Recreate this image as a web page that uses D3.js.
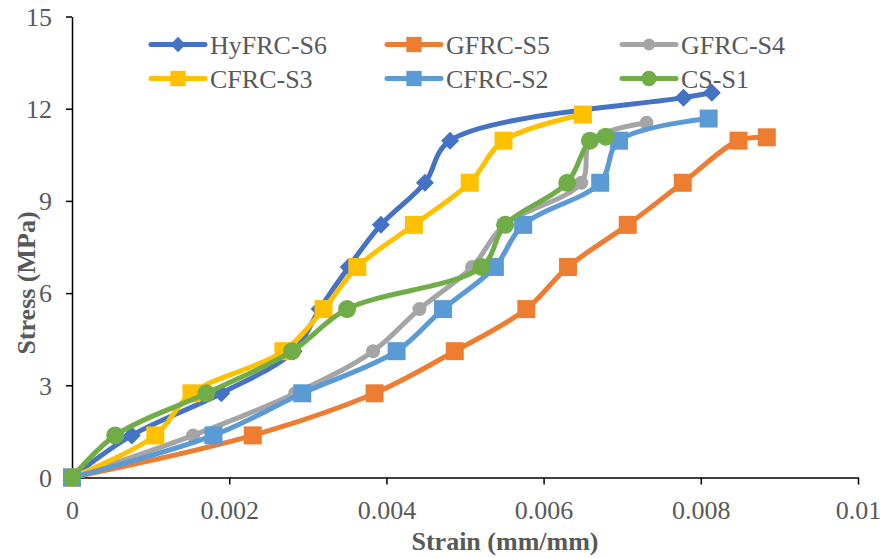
<!DOCTYPE html>
<html><head><meta charset="utf-8">
<script src="https://cdn.jsdelivr.net/npm/d3@7"></script>
<style>body{margin:0;background:#fff}svg{display:block}</style>
</head><body>
<svg id="c" width="882" height="558"></svg>
<script>
const seriesNames = ["HyFRC-S6","GFRC-S5","GFRC-S4","CFRC-S3","CFRC-S2","CS-S1"];
const seriesColors = ["#4472C4","#ED7D31","#A5A5A5","#FFC000","#5B9BD5","#70AD47"];
const seriesMarkers = ["diamond","square","circleSmall","square","square","circle"];
const strainS6 = [0,0.00076,0.0019,0.00282,0.00315,0.00352,0.00393,0.00449,0.00481,0.00778,0.00814];
const stressS6 = [0,1.37,2.74,4.11,5.48,6.85,8.22,9.59,10.96,12.36,12.52];
const strainS5 = [0,0.0023,0.00385,0.00487,0.00578,0.00631,0.00707,0.00777,0.00848,0.00884];
const stressS5 = [0,1.37,2.74,4.11,5.48,6.85,8.22,9.59,10.96,11.07];
const strainS4 = [0,0.00154,0.00284,0.00383,0.00442,0.00509,0.0055,0.00648,0.0066,0.00731];
const stressS4 = [0,1.37,2.74,4.11,5.48,6.85,8.22,9.59,10.96,11.54];
const strainS3 = [0,0.00106,0.00152,0.00269,0.0032,0.00363,0.00435,0.00506,0.00549,0.0065];
const stressS3 = [0,1.37,2.74,4.11,5.48,6.85,8.22,9.59,10.96,11.81];
const strainS2 = [0,0.0018,0.00293,0.00413,0.00472,0.00538,0.00574,0.00672,0.00696,0.0081];
const stressS2 = [0,1.37,2.74,4.11,5.48,6.85,8.22,9.59,10.96,11.68];
const strainS1 = [0,0.00055,0.00171,0.0028,0.0035,0.00521,0.00551,0.0063,0.00659,0.00679];
const stressS1 = [0,1.37,2.74,4.11,5.48,6.85,8.22,9.59,10.96,11.09];
const xTicks = [0,0.002,0.004,0.006,0.008,0.01];
const xTickLabels = ["0","0.002","0.004","0.006","0.008","0.01"];
const yTicks = [0,3,6,9,12,15];
const xTitle = "Strain (mm/mm)";
const yTitle = "Stress (MPa)";

const strains = [strainS6,strainS5,strainS4,strainS3,strainS2,strainS1];
const stresses = [stressS6,stressS5,stressS4,stressS3,stressS2,stressS1];
const series = seriesNames.map((n,i)=>({name:n,color:seriesColors[i],marker:seriesMarkers[i],
  pts: strains[i].map((s,j)=>[s,stresses[i][j]])}));

const svg = d3.select("#c");
const x = d3.scaleLinear().domain([0,0.01]).range([72,858]);
const y = d3.scaleLinear().domain([0,15]).range([477.5,16.5]);
const font = "'Liberation Serif','Times New Roman',serif";
const txt = "#595959";

// axes
const xa = svg.append("g").attr("transform","translate(0,477.5)")
  .call(d3.axisBottom(x).tickValues(xTicks).tickFormat((d,i)=>xTickLabels[i]).tickSizeOuter(0).tickSizeInner(7).tickPadding(16));
const ya = svg.append("g").attr("transform","translate(72,0)")
  .call(d3.axisLeft(y).tickValues(yTicks).tickSizeOuter(0).tickSizeInner(6).tickPadding(14));
[xa,ya].forEach(a=>{
  a.select(".domain").attr("stroke","#000").attr("stroke-width",1.5);
  a.selectAll(".tick line").attr("stroke","#000").attr("stroke-width",1.5);
  a.selectAll(".tick text").attr("fill",txt).style("font-family",font).style("font-size","26px");
});
ya.selectAll(".tick text").attr("dy","0.34em");
xa.selectAll(".tick text").attr("dy","0.71em");

svg.append("text").attr("x",505).attr("y",550).attr("text-anchor","middle")
  .attr("fill",txt).style("font-family",font).style("font-size","26px").style("font-weight","bold").text(xTitle);
svg.append("text").attr("transform","translate(35,283) rotate(-90)").attr("text-anchor","middle")
  .attr("fill",txt).style("font-family",font).style("font-size","26px").style("font-weight","bold").text(yTitle);

function drawMarker(g,type,color,cx,cy,legend){
  const k = legend?0.85:1;
  if(type==="square"){
    const s=18*k; g.append("rect").attr("x",cx-s/2).attr("y",cy-s/2).attr("width",s).attr("height",s).attr("fill",color);
  } else if(type==="diamond"){
    const r=9*k; g.append("path").attr("d",`M${cx},${cy-r}L${cx+r},${cy}L${cx},${cy+r}L${cx-r},${cy}Z`).attr("fill",color);
  } else if(type==="circle"){
    g.append("circle").attr("cx",cx).attr("cy",cy).attr("r",9*k).attr("fill",color);
  } else {
    g.append("circle").attr("cx",cx).attr("cy",cy).attr("r",7*k).attr("fill",color);
  }
}

const line = d3.line().x(d=>x(d[0])).y(d=>y(d[1])).curve(d3.curveCatmullRom.alpha(0.5));
series.forEach(s=>{
  const g = svg.append("g");
  g.append("path").attr("d",line(s.pts)).attr("fill","none").attr("stroke",s.color)
    .attr("stroke-width",5).attr("stroke-linejoin","round").attr("stroke-linecap","round");
  s.pts.forEach(p=>drawMarker(g,s.marker,s.color,x(p[0]),y(p[1]),false));
});

// legend
const legX = [151,387,622], legY=[44.5,78.5];
series.forEach((s,i)=>{
  const lx = legX[i%3], ly = legY[Math.floor(i/3)];
  const g = svg.append("g");
  g.append("line").attr("x1",lx).attr("x2",lx+54).attr("y1",ly).attr("y2",ly)
    .attr("stroke",s.color).attr("stroke-width",5).attr("stroke-linecap","round");
  drawMarker(g,s.marker,s.color,lx+27,ly,true);
  g.append("text").attr("x",lx+59).attr("y",ly+9).attr("fill",txt)
    .style("font-family",font).style("font-size","26px").text(s.name);
});
</script>
</body></html>
